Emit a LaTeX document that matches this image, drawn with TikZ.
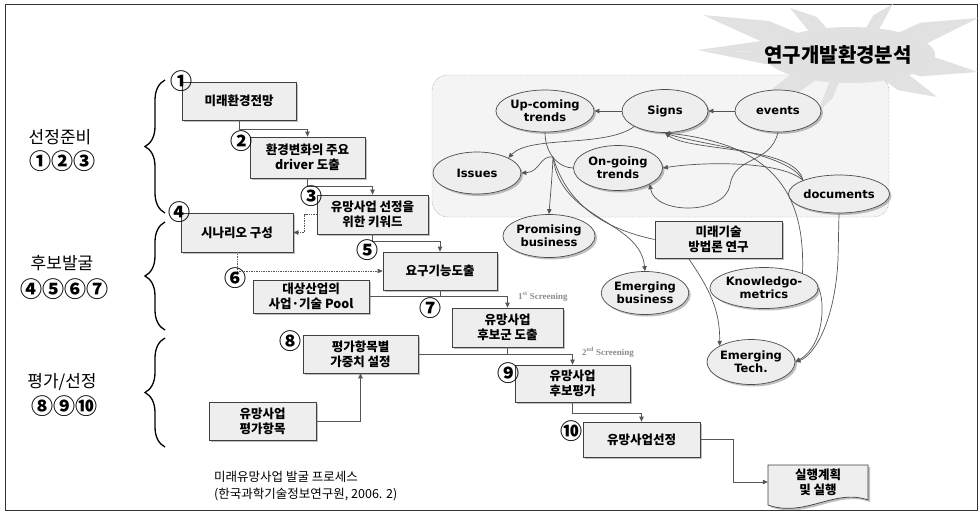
\documentclass[tikz,border=0pt]{standalone}
\usepackage{fontspec}
\newfontfamily\kr{Noto Sans CJK KR}
\newfontfamily\dv{DejaVu Sans}
\newfontfamily\lser{Liberation Serif}
\usetikzlibrary{shapes.geometric,shadows,arrows.meta,decorations.pathreplacing,calc}
\definecolor{stargray}{RGB}{225,225,225}
\definecolor{areagray}{RGB}{244,244,244}
\definecolor{boxgray}{RGB}{238,238,238}
\definecolor{lngray}{RGB}{85,85,85}
\begin{document}
\begin{tikzpicture}[x=1pt,y=-1pt,
  shd/.style={drop shadow={shadow xshift=2pt,shadow yshift=-2pt,fill=black!50}},
  box/.style={draw=black!75,line width=0.7pt,fill=boxgray,shd,font=\kr\bfseries\fontsize{12.5}{15}\selectfont,align=center,inner sep=0pt},
  ell/.style={ellipse,draw=black!70,line width=0.7pt,fill=boxgray,shd,font=\dv\bfseries\fontsize{11.5}{13}\selectfont,align=center,inner sep=0pt},
  num/.style={font=\kr\bfseries\fontsize{22}{22}\selectfont,inner sep=0pt},
  side/.style={font=\kr\fontsize{17}{17}\selectfont,inner sep=0pt},
  conn/.style={draw=lngray,line width=0.7pt,-{Triangle[length=5pt,width=4.5pt]}},
  ln/.style={draw=lngray,line width=0.7pt},
  dconn/.style={conn,densely dotted},
  brc/.style={decorate,decoration={brace,amplitude=20pt},line width=1.3pt},
  scr/.style={font=\lser\bfseries\fontsize{9}{9}\selectfont,text=black!45,anchor=west,inner sep=0pt}
]
\useasboundingbox (0,0) rectangle (980,512);
\draw[black!80,line width=1pt] (5,4) rectangle (977,510);

% environment area
\draw[black!60,densely dotted,fill=areagray,rounded corners=16pt] (432,75) rectangle (889,217);

% starburst (drawn as separate triangles around a core)
\coordinate (sc) at (850,55);
\foreach \px/\py in {703/15,790/8,893/4,978/18,978/72,937/97,818/112,758/100,698/50}{
  \fill[stargray] (sc) -- ++(0,0) -- (\px,\py) -- ($(sc)!0.55!(\px,\py)+(0,12)$) -- cycle;
  \fill[stargray] (sc) -- (\px,\py) -- ($(sc)!0.55!(\px,\py)+(0,-12)$) -- cycle;
}
\fill[stargray] (850,55) ellipse [x radius=85pt, y radius=28pt];

% ellipses
\node[ell,minimum width=86pt,minimum height=42pt] (up) at (545,111) {Up-coming\\trends};
\node[ell,minimum width=86pt,minimum height=43pt] (signs) at (665,111) {Signs};
\node[ell,minimum width=86pt,minimum height=42pt] (events) at (778,111) {events};
\node[ell,minimum width=88pt,minimum height=42pt] (issues) at (477,173) {Issues};
\node[ell,minimum width=89pt,minimum height=45pt] (ongo) at (618,168) {On-going\\trends};
\node[ell,minimum width=88pt,minimum height=38pt] (docs) at (839,194) {documents};
\node[ell,minimum width=87pt,minimum height=43pt] (prom) at (549,236) {Promising\\business};
\node[ell,minimum width=87pt,minimum height=43pt] (emb) at (645,293) {Emerging\\business};
\node[ell,minimum width=88pt,minimum height=41pt] (know) at (764,288) {Knowledgo-\\metrics};
\node[ell,minimum width=88pt,minimum height=45pt] (emt) at (751,362) {Emerging\\Tech.};
\node[box,minimum width=127pt,minimum height=37pt] (mb) at (718.5,239.5) {미래기술\\방법론 연구};

\node[font=\kr\bfseries\fontsize{20}{20}\selectfont,inner sep=0pt,text=black] (title) at (838,55) {연구개발환경분석};

\coordinate (fan) at (553,157);

% cluster connectors
\draw[conn] (events.west) -- (signs.east);
\draw[conn] (signs.west) -- (up.east);
\draw[conn] (signs.south west) .. controls (605,148) and (530,135) .. (issues.north east);
\draw[ln] (up.south) .. controls (545,155) and (560,168) .. (ongo.west);
\draw[conn] (events.south) .. controls (770,165) and (735,155) .. (730,185) .. controls (725,215) and (655,215) .. (ongo.south east);
\draw[conn] (docs.north west) .. controls (795,145) and (690,152) .. (signs.south);
\draw[conn] (docs.north west) .. controls (788,152) and (700,145) .. (signs.south);
\draw[conn] (docs.north west) .. controls (780,160) and (700,162) .. (ongo.east);
\draw[conn] (know.north east) .. controls (805,200) and (780,145) .. (signs.south);
\draw[conn] (fan) .. controls (540,155) and (540,172) .. (issues.east);
\draw[conn] (fan) .. controls (552,180) and (550,200) .. (prom.north);
\draw[conn] (fan) .. controls (560,220) and (640,220) .. (emb.north);
\draw[ln] (fan) .. controls (570,215) and (620,232) .. (mb.west);
\draw[conn] ($(mb.south)+(-30,0)$) .. controls (710,290) and (720,310) .. (emt.north west);
\draw[conn] (docs.south) -- (838,260) .. controls (835,320) and (815,355) .. (emt.east);
\draw[conn] (know.east) .. controls (825,300) and (825,345) .. (emt.east);

% process boxes
\node[box,minimum width=114pt,minimum height=38pt] (b1) at (239,101) {미래환경전망};
\node[box,minimum width=115pt,minimum height=41pt] (b2) at (307.5,157.5) {환경변화의 주요\\driver 도출};
\node[box,minimum width=111pt,minimum height=39pt] (b3) at (372.5,214.5) {유망사업 선정을\\위한 키워드};
\node[box,minimum width=112pt,minimum height=39pt] (b4) at (237,232.5) {시나리오 구성};
\node[box,minimum width=114pt,minimum height=38pt] (b5) at (440,271) {요구기능도출};
\node[box,minimum width=116pt,minimum height=33pt] (b6) at (311,296.5) {대상산업의\\사업·기술 Pool};
\node[box,minimum width=111pt,minimum height=39pt] (b7) at (507.5,327.5) {유망사업\\후보군 도출};
\node[box,minimum width=115pt,minimum height=38pt] (b8) at (360.5,354) {평가항목별\\가중치 설정};
\node[box,minimum width=115pt,minimum height=37pt] (b9) at (572.5,383.5) {유망사업\\후보평가};
\node[box,minimum width=117pt,minimum height=35pt] (b10) at (641.5,439.5) {유망사업선정};
\node[box,minimum width=107pt,minimum height=38pt] (b12) at (262.5,421) {유망사업\\평가항목};

% document shape
\path[draw=black!75,line width=0.7pt,fill=boxgray,shd] (768,465) -- (868,465) -- (868,500)
  .. controls (835,488) and (805,518) .. (768,505) -- cycle;
\node[font=\kr\bfseries\fontsize{12.5}{15}\selectfont,align=center,inner sep=0pt,minimum width=100pt] (b11) at (818,482) {실행계획\\및 실행};

% process connectors
\draw[conn] (b1.south) -- ++(0,9) -| (b2.north);
\draw[conn] (b2.south) -- ++(0,8) -| (b3.north);
\draw[dconn] (b3.west) -- ++(-12,0) |- (b4.east);
\draw[conn] (b3.south) -- ++(0,7) -| (b5.north);
\draw[dconn] (b4.south) |- (b5.west);
\draw[ln] (b6.east) -- (b5.south |- b6.east);
\draw[conn] (b5.south) |- (b6.east -| b7.north) -- (b7.north);
\draw[ln] (b7.south) -- (b7.south |- b8.east);
\draw[conn] (b8.east) -| (b9.north);
\draw[conn] (b9.south) -- ++(0,11) -| (b10.north);
\draw[conn] (b10.east) -- ++(33,0) |- (b11.west);
\draw[conn] (b12.east) -| (b8.south);

% screening labels
\node[scr] (s1) at (518,297) {1\textsuperscript{st} Screening};
\node[scr] (s2) at (582,352) {2\textsuperscript{nd} Screening};

% circled numbers
\node[num] (n1) at (181,81) {①};
\node[num] (n2) at (241,141) {②};
\node[num] (n3) at (311,196) {③};
\node[num] (n4) at (179,212) {④};
\node[num] (n5) at (367,250) {⑤};
\node[num] (n6) at (235,278) {⑥};
\node[num] (n7) at (430,308) {⑦};
\node[num] (n8) at (290,341) {⑧};
\node[num] (n9) at (508,373) {⑨};
\node[num] (n10) at (571,431) {⑩};

% side labels and braces
\node[side] (l1) at (60,137) {선정준비};
\node[num] (l1n) at (62,161) {①②③};
\node[side] (l2) at (62,263) {후보발굴};
\node[num] (l2n) at (64,289) {④⑤⑥⑦};
\node[side] (l3) at (62,382) {평가/선정};
\node[num] (l3n) at (64,406) {⑧⑨⑩};
\draw[brc] (165,213) -- (165,80);
\draw[brc] (165,330) -- (165,222);
\draw[brc] (165,447) -- (165,338);

% caption
\node[font=\kr\fontsize{12.5}{16.5}\selectfont,align=left,anchor=west,inner sep=0pt] (cap) at (214,486) {미래유망사업 발굴 프로세스\\(한국과학기술정보연구원, 2006. 2)};
\end{tikzpicture}
\end{document}
